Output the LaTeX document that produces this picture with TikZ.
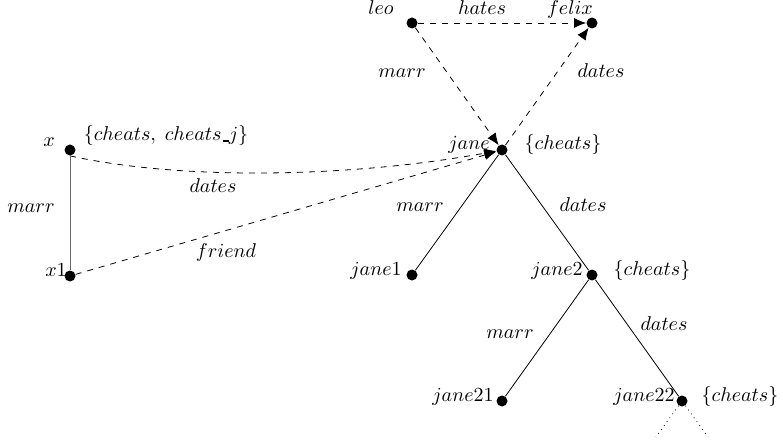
\documentclass[tikz,border=0pt]{standalone}
\usetikzlibrary{arrows.meta}
\newcommand{\myus}{\mbox{\kern.06em\rule[-0.3pt]{0.3em}{0.7pt}}}
\begin{document}
\begin{tikzpicture}[x=0.5pt,y=-0.5pt,
  dot/.style={circle,fill=black,inner sep=0pt,minimum size=5.5pt},
  lab/.style={inner sep=0pt,anchor=base},
  rel/.style={dashed,-{Latex[length=6pt,width=5pt]}},
  tree/.style={line width=0.4pt}]
\useasboundingbox (0,0) rectangle (781,443);
% nodes
\node[dot] (leo) at (412,23) {};
\node[dot] (felix) at (592,23) {};
\node[dot] (jane) at (502,150) {};
\node[dot] (x) at (70,150) {};
\node[dot] (x1) at (70,276) {};
\node[dot] (jane1) at (412,275) {};
\node[dot] (jane2) at (592,275) {};
\node[dot] (jane21) at (502,401) {};
\node[dot] (jane22) at (682,401) {};
\coordinate (d1) at (656,437);
\coordinate (d2) at (708,437);
% labels
\node[lab] (tleo) at (381,15) {$leo$};
\node[lab] (thates) at (482,15) {$hates$};
\node[lab] (tfelix) at (570,15) {$felix$};
\node[lab] (tmarr1) at (402,78) {$marr$};
\node[lab] (tdates1) at (601,78) {$dates$};
\node[lab] (tjane) at (469,150) {$jane$};
\node[lab] (tjc) at (563,150) {$\{cheats\}$};
\node[lab] (tx) at (49,147) {$x$};
\node[lab] (txc) at (166,141) {$\{cheats,\;cheats\myus j\}$};
\node[lab] (tmarr0) at (31,213) {$marr$};
\node[lab] (tx1) at (56,277) {$x1$};
\node[lab] (tdates0) at (213,193) {$dates$};
\node[lab] (tfriend) at (226,257) {$friend$};
\node[lab] (tmarr2) at (420,212) {$marr$};
\node[lab] (tdates2) at (583,212) {$dates$};
\node[lab] (tjane1) at (376,276) {$jane1$};
\node[lab] (tjane2) at (557,276) {$jane2$};
\node[lab] (tj2c) at (652,276) {$\{cheats\}$};
\node[lab] (tmarr3) at (510,338) {$marr$};
\node[lab] (tdates3) at (664,330) {$dates$};
\node[lab] (tjane21) at (463,401) {$jane21$};
\node[lab] (tjane22) at (644,401) {$jane22$};
\node[lab] (tj22c) at (740,401) {$\{cheats\}$};
% edges
\draw[rel] (leo) -- (felix);
\draw[rel] (leo) -- (jane);
\draw[rel] (jane) -- (felix);
\draw[rel] (x.south) .. controls (190,182) and (360,176) .. (jane);
\draw[rel] (x1) -- (jane);
\draw[gray!80!black] (x) -- (x1);
\draw[tree] (jane) -- (jane1);
\draw[tree] (jane) -- (jane2);
\draw[tree] (jane2) -- (jane21);
\draw[tree] (jane2) -- (jane22);
\draw[dotted] (jane22) -- (d1);
\draw[dotted] (jane22) -- (d2);
\end{tikzpicture}
\end{document}
